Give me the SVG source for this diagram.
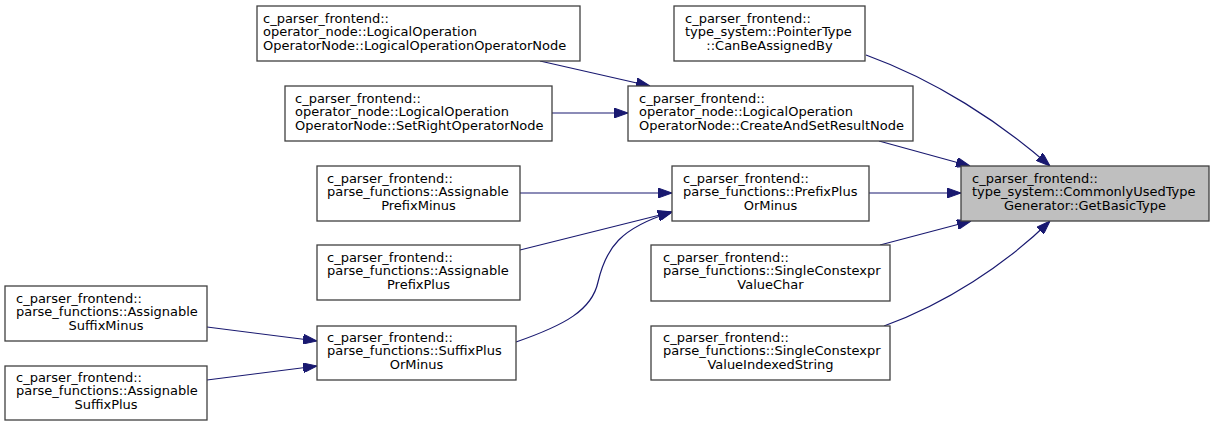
<svg xmlns="http://www.w3.org/2000/svg" width="1215" height="427" viewBox="0 0 1215 427">
  <style>
    .box { fill: #ffffff; stroke: #404040; stroke-width: 1.3; }
    .focus { fill: #bfbfbf; stroke: #404040; stroke-width: 1.3; }
    text { font-family: "DejaVu Sans", "Liberation Sans", sans-serif; font-size: 13px; fill: #000000; }
    .mid { text-anchor: middle; }
    .edge { fill: none; stroke: #191970; stroke-width: 1.2; }
  </style>
  <defs>
    <marker id="arrow" viewBox="0 0 14 10" refX="14" refY="5" markerWidth="14" markerHeight="10" markerUnits="userSpaceOnUse" orient="auto">
      <path d="M0,0 L14,5 L0,10 z" fill="#191970" stroke="#191970" stroke-width="1"/>
    </marker>
  </defs>
  <rect width="1215" height="427" fill="#ffffff"/>

  <!-- call edges -->
  <g id="edges">
    <path class="edge" marker-end="url(#arrow)" d="M866,55 C935,80 1000,122 1050,166"/>
    <path class="edge" marker-end="url(#arrow)" d="M879,141 L970,166"/>
    <path class="edge" marker-end="url(#arrow)" d="M869,193 L961,193"/>
    <path class="edge" marker-end="url(#arrow)" d="M880,245 L971,221"/>
    <path class="edge" marker-end="url(#arrow)" d="M884,326 C945,304 1005,265 1050,221"/>
    <path class="edge" marker-end="url(#arrow)" d="M540,61 L650,86"/>
    <path class="edge" marker-end="url(#arrow)" d="M552,113 L628,113"/>
    <path class="edge" marker-end="url(#arrow)" d="M520,193 L672,193"/>
    <path class="edge" marker-end="url(#arrow)" d="M520,250 L672,212"/>
    <path class="edge" marker-end="url(#arrow)" d="M516,342 C565,325 592,310 598,282 C606,248 620,228 672,212"/>
    <path class="edge" marker-end="url(#arrow)" d="M207,327 L317,341"/>
    <path class="edge" marker-end="url(#arrow)" d="M207,380 L317,366"/>
  </g>

  <g id="node-GetBasicType">
    <rect class="focus" x="961" y="166" width="248" height="55"/>
    <text x="972" y="182.5">c_parser_frontend::</text>
    <text x="972" y="196">type_system::CommonlyUsedType</text>
    <text class="mid" x="1085" y="209.5">Generator::GetBasicType</text>
  </g>

  <g id="node-CanBeAssignedBy">
    <rect class="box" x="674" y="6" width="191" height="55"/>
    <text x="685" y="22.5">c_parser_frontend::</text>
    <text x="685" y="36">type_system::PointerType</text>
    <text class="mid" x="769.5" y="49.5">::CanBeAssignedBy</text>
  </g>

  <g id="node-CreateAndSetResultNode">
    <rect class="box" x="628" y="86" width="285" height="55"/>
    <text x="639" y="102.5">c_parser_frontend::</text>
    <text x="639" y="116">operator_node::LogicalOperation</text>
    <text x="639" y="129.5">OperatorNode::CreateAndSetResultNode</text>
  </g>

  <g id="node-LogicalOperationOperatorNode">
    <rect class="box" x="257" y="6" width="323" height="55"/>
    <text x="263" y="22.5">c_parser_frontend::</text>
    <text x="263" y="36">operator_node::LogicalOperation</text>
    <text x="263" y="49.5">OperatorNode::LogicalOperationOperatorNode</text>
  </g>

  <g id="node-SetRightOperatorNode">
    <rect class="box" x="285" y="86" width="267" height="55"/>
    <text x="295" y="102.5">c_parser_frontend::</text>
    <text x="295" y="116">operator_node::LogicalOperation</text>
    <text x="295" y="129.5">OperatorNode::SetRightOperatorNode</text>
  </g>

  <g id="node-PrefixPlusOrMinus">
    <rect class="box" x="672" y="166" width="197" height="55"/>
    <text x="683" y="182.5">c_parser_frontend::</text>
    <text x="683" y="196">parse_functions::PrefixPlus</text>
    <text class="mid" x="770.5" y="209.5">OrMinus</text>
  </g>

  <g id="node-AssignablePrefixMinus">
    <rect class="box" x="317" y="166" width="203" height="55"/>
    <text x="327" y="182.5">c_parser_frontend::</text>
    <text x="327" y="196">parse_functions::Assignable</text>
    <text class="mid" x="418.5" y="209.5">PrefixMinus</text>
  </g>

  <g id="node-AssignablePrefixPlus">
    <rect class="box" x="317" y="245" width="203" height="55"/>
    <text x="327" y="261.5">c_parser_frontend::</text>
    <text x="327" y="275">parse_functions::Assignable</text>
    <text class="mid" x="418.5" y="288.5">PrefixPlus</text>
  </g>

  <g id="node-SingleConstexprValueChar">
    <rect class="box" x="651" y="245" width="239" height="56"/>
    <text x="663" y="261.5">c_parser_frontend::</text>
    <text x="663" y="275">parse_functions::SingleConstexpr</text>
    <text class="mid" x="770.5" y="288.5">ValueChar</text>
  </g>

  <g id="node-SingleConstexprValueIndexedString">
    <rect class="box" x="651" y="326" width="239" height="54"/>
    <text x="663" y="341.5">c_parser_frontend::</text>
    <text x="663" y="355">parse_functions::SingleConstexpr</text>
    <text class="mid" x="770.5" y="368.5">ValueIndexedString</text>
  </g>

  <g id="node-SuffixPlusOrMinus">
    <rect class="box" x="317" y="326" width="199" height="54"/>
    <text x="327" y="341.5">c_parser_frontend::</text>
    <text x="327" y="355">parse_functions::SuffixPlus</text>
    <text class="mid" x="416.5" y="368.5">OrMinus</text>
  </g>

  <g id="node-AssignableSuffixMinus">
    <rect class="box" x="5" y="286" width="202" height="55"/>
    <text x="16" y="302.5">c_parser_frontend::</text>
    <text x="16" y="316">parse_functions::Assignable</text>
    <text class="mid" x="106" y="329.5">SuffixMinus</text>
  </g>

  <g id="node-AssignableSuffixPlus">
    <rect class="box" x="5" y="366" width="202" height="54"/>
    <text x="16" y="381.5">c_parser_frontend::</text>
    <text x="16" y="395">parse_functions::Assignable</text>
    <text class="mid" x="106" y="408.5">SuffixPlus</text>
  </g>
</svg>
